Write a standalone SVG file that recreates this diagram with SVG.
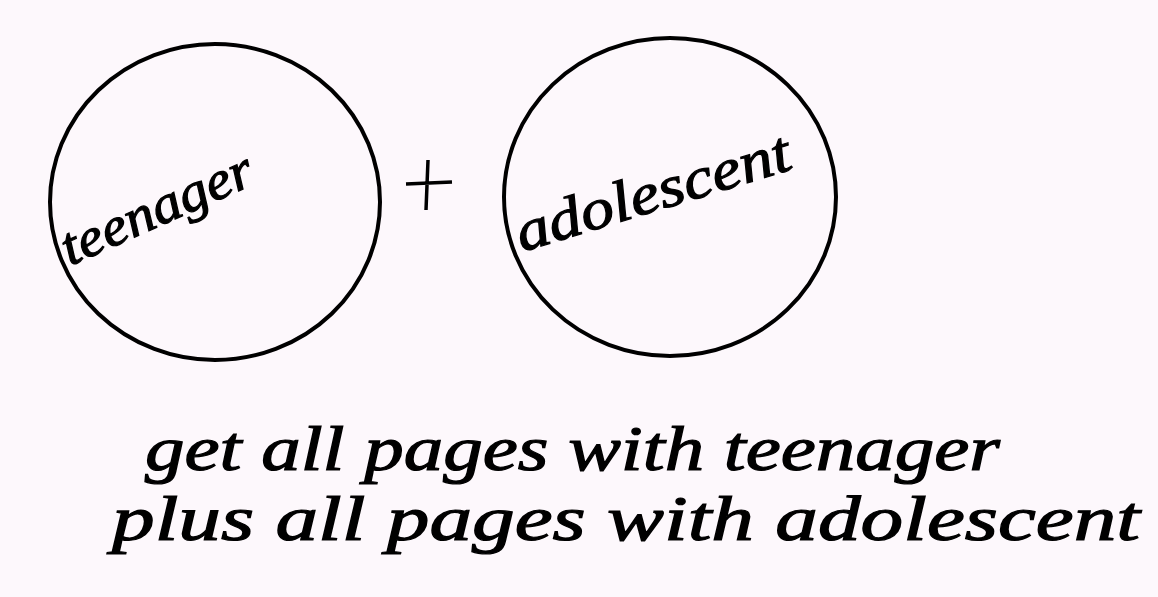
<svg xmlns="http://www.w3.org/2000/svg" width="1158" height="597" viewBox="0 0 1158 597">
<style>
.ring{fill:none;stroke:#000;stroke-width:4}
.hand{font-family:"Liberation Serif","DejaVu Serif",serif;font-style:italic;fill:#000;stroke:#000;stroke-width:1.2}
</style>
<rect width="1158" height="597" fill="#fdf8fc"/>
<g id="teenager">
<ellipse class="ring" cx="215" cy="202" rx="165" ry="158"/>
<text class="hand" font-size="54" x="0" y="0" transform="translate(70,266) rotate(-24)" textLength="205" lengthAdjust="spacingAndGlyphs">teenager</text>
</g>
<g id="plus">
<path d="M406 184 L452 182 M428 160 L426 210" stroke="#000" stroke-width="3.5" fill="none"/>
</g>
<g id="adolescent">
<ellipse class="ring" cx="670" cy="197" rx="166" ry="159"/>
<text class="hand" font-size="58" x="0" y="0" transform="translate(522,252) rotate(-17)" textLength="285" lengthAdjust="spacingAndGlyphs">adolescent</text>
</g>
<g id="caption">
<text class="hand" font-size="64" x="145" y="470" textLength="855" lengthAdjust="spacingAndGlyphs">get all pages with teenager</text>
<text class="hand" font-size="64" x="112" y="540" textLength="1028" lengthAdjust="spacingAndGlyphs">plus all pages with adolescent</text>
</g>
</svg>
